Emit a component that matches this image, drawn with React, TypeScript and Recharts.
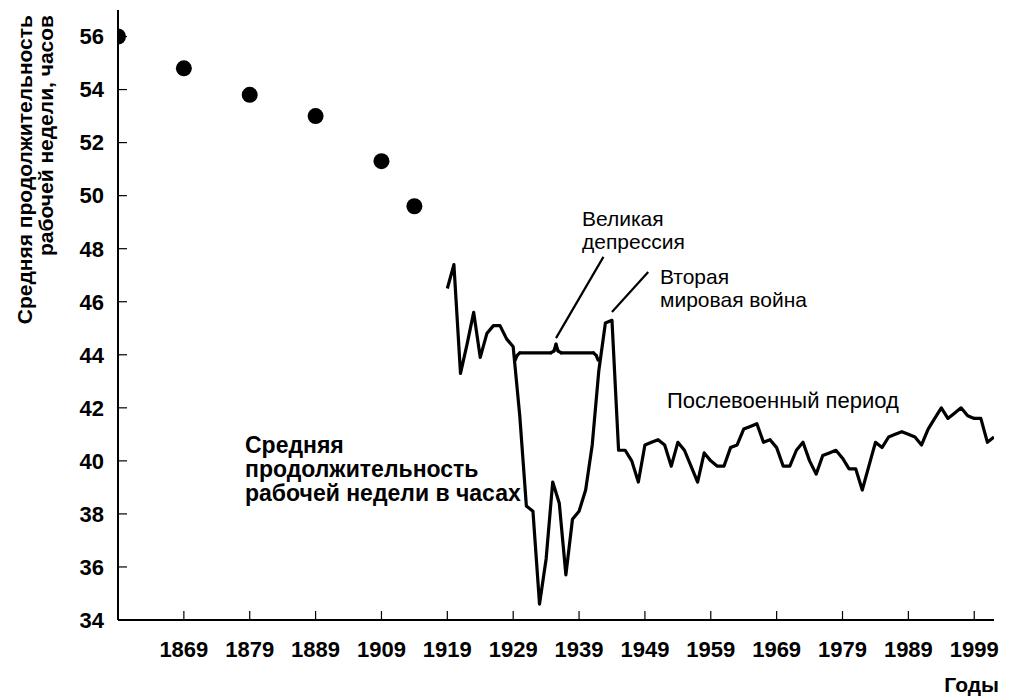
import React from 'react';
import { ComposedChart, Line, Scatter, XAxis, YAxis, ReferenceLine } from 'recharts';

// Early observations (dots)
const earlyYears = [1859, 1869, 1879, 1889, 1899, 1904];
const earlyHours = [56.0, 54.8, 53.8, 53.0, 51.3, 49.6];

// Annual series (line)
const lineYears = [
  1909, 1910, 1911, 1912, 1913, 1914, 1915, 1916, 1917, 1918,
  1919, 1920, 1921, 1922, 1923, 1924, 1925, 1926, 1927, 1928,
  1929, 1930, 1931, 1932, 1933, 1934, 1935, 1936, 1937, 1938,
  1939, 1940, 1941, 1942, 1943, 1944, 1945, 1946, 1947, 1948,
  1949, 1950, 1951, 1952, 1953, 1954, 1955, 1956, 1957, 1958,
  1959, 1960, 1961, 1962, 1963, 1964, 1965, 1966, 1967, 1968,
  1969, 1970, 1971, 1972, 1973, 1974, 1975, 1976, 1977, 1978,
  1979, 1980, 1981, 1982, 1983, 1984, 1985, 1986, 1987, 1988,
  1989, 1990, 1991, 1992,
];
const lineHours = [
  46.5, 47.4, 43.3, 44.4, 45.6, 43.9, 44.8, 45.1, 45.1, 44.6,
  44.3, 41.7, 38.3, 38.1, 34.6, 36.3, 39.2, 38.4, 35.7, 37.8,
  38.1, 38.9, 40.6, 43.4, 45.2, 45.3, 40.4, 40.4, 40.0, 39.2,
  40.6, 40.7, 40.8, 40.6, 39.8, 40.7, 40.4, 39.8, 39.2, 40.3,
  40.0, 39.8, 39.8, 40.5, 40.6, 41.2, 41.3, 41.4, 40.7, 40.8,
  40.5, 39.8, 39.8, 40.4, 40.7, 40.0, 39.5, 40.2, 40.3, 40.4,
  40.1, 39.7, 39.7, 38.9, 39.8, 40.7, 40.5, 40.9, 41.0, 41.1,
  41.0, 40.9, 40.6, 41.2, 41.6, 42.0, 41.6, 41.8, 42.0, 41.7,
  41.6, 41.6, 40.7, 40.9,
];

// Axis ticks (positions on the axis and the labels printed under them)
const xTickPositions = [1869, 1879, 1889, 1899, 1909, 1919, 1929, 1939, 1949, 1959, 1969, 1979, 1989];
const xTickLabels = ['1869', '1879', '1889', '1909', '1919', '1929', '1939', '1949', '1959', '1969', '1979', '1989', '1999'];
const yTicks = [34, 36, 38, 40, 42, 44, 46, 48, 50, 52, 54, 56];

// Annotation geometry in data coordinates
const braceSegments: [number, number][][] = [
  [[1919.3, 43.8], [1919.6, 43.98]],
  [[1919.6, 43.98], [1920.0, 44.07]],
  [[1920.0, 44.07], [1924.7, 44.07]],
  [[1924.7, 44.07], [1925.2, 44.15]],
  [[1925.2, 44.15], [1925.5, 44.4]],
  [[1925.5, 44.4], [1925.8, 44.15]],
  [[1925.8, 44.15], [1926.3, 44.07]],
  [[1926.3, 44.07], [1931.2, 44.07]],
  [[1931.2, 44.07], [1931.6, 43.98]],
  [[1931.6, 43.98], [1931.9, 43.8]],
];
const leaderSegments: [number, number][][] = [
  [[1925.5, 44.63], [1932.7, 47.69]],
  [[1934.0, 45.61], [1939.5, 47.12]],
];

const earlyData = earlyYears.map((y, i) => ({ year: y, hours: earlyHours[i] }));
const lineData = lineYears.map((y, i) => ({ year: y, hours: lineHours[i] }));

const FONT = '"Liberation Sans", Arial, Helvetica, sans-serif';

const Dot = (props: any) => <circle cx={props.cx} cy={props.cy} r={8} fill="#000" />;

export default function App() {
  return (
    <div style={{ position: 'absolute', left: 0, top: 0, width: 1009, height: 697, background: '#fff', fontFamily: FONT }}>
      <ComposedChart
        width={1009}
        height={697}
        margin={{ top: 10, right: 15, bottom: 37, left: 0 }}
      >
        <XAxis
          type="number"
          dataKey="year"
          domain={[1859, 1992]}
          allowDataOverflow
          ticks={xTickPositions}
          interval={0}
          tickFormatter={(v: number) => xTickLabels[xTickPositions.indexOf(v)] ?? ''}
          height={40}
          tickSize={-9}
          tickMargin={30}
          axisLine={{ stroke: '#000', strokeWidth: 2 }}
          tickLine={{ stroke: '#000', strokeWidth: 1.2 }}
          tick={{ fontSize: 22, fontWeight: 'bold', fill: '#000', fontFamily: FONT }}
        />
        <YAxis
          type="number"
          dataKey="hours"
          domain={[34, 57]}
          allowDataOverflow
          ticks={yTicks}
          interval={0}
          width={118}
          tickSize={-9}
          tickMargin={23}
          axisLine={{ stroke: '#000', strokeWidth: 2 }}
          tickLine={{ stroke: '#000', strokeWidth: 1.2 }}
          tick={{ fontSize: 22, fontWeight: 'bold', fill: '#000', fontFamily: FONT }}
        />
        {braceSegments.map((seg, i) => (
          <ReferenceLine
            key={'b' + i}
            segment={[{ x: seg[0][0], y: seg[0][1] }, { x: seg[1][0], y: seg[1][1] }]}
            stroke="#000"
            strokeWidth={3.2}
            strokeLinecap="round"
          />
        ))}
        {leaderSegments.map((seg, i) => (
          <ReferenceLine
            key={'l' + i}
            segment={[{ x: seg[0][0], y: seg[0][1] }, { x: seg[1][0], y: seg[1][1] }]}
            stroke="#000"
            strokeWidth={2.2}
          />
        ))}
        <Line
          data={lineData}
          dataKey="hours"
          type="linear"
          stroke="#000"
          strokeWidth={3.2}
          strokeLinejoin="round"
          dot={false}
          activeDot={false}
          isAnimationActive={false}
        />
        <Scatter data={earlyData} dataKey="hours" fill="#000" shape={Dot} isAnimationActive={false} />
      </ComposedChart>
      <svg
        width={1009}
        height={697}
        style={{ position: 'absolute', left: 0, top: 0, pointerEvents: 'none' }}
        fontFamily={FONT}
      >
        <g fontWeight="bold" fontSize={21} fill="#000">
          <text transform="translate(32,15) rotate(-90)" textAnchor="end">Средняя продолжительность</text>
          <text transform="translate(53,15) rotate(-90)" textAnchor="end">рабочей недели, часов</text>
        </g>
        <g fontSize={21} fill="#000">
          <text x={582} y={226}>Великая</text>
          <text x={582} y={249}>депрессия</text>
          <text x={660} y={284}>Вторая</text>
          <text x={660} y={307}>мировая война</text>
          <text x={667} y={408} fontSize={22}>Послевоенный период</text>
        </g>
        <g fontSize={23} fontWeight="bold" fill="#000">
          <text x={245} y={453}>Средняя</text>
          <text x={245} y={477}>продолжительность</text>
          <text x={245} y={501}>рабочей недели в часах</text>
          <text x={999} y={692} textAnchor="end" fontSize={21}>Годы</text>
        </g>
      </svg>
    </div>
  );
}
